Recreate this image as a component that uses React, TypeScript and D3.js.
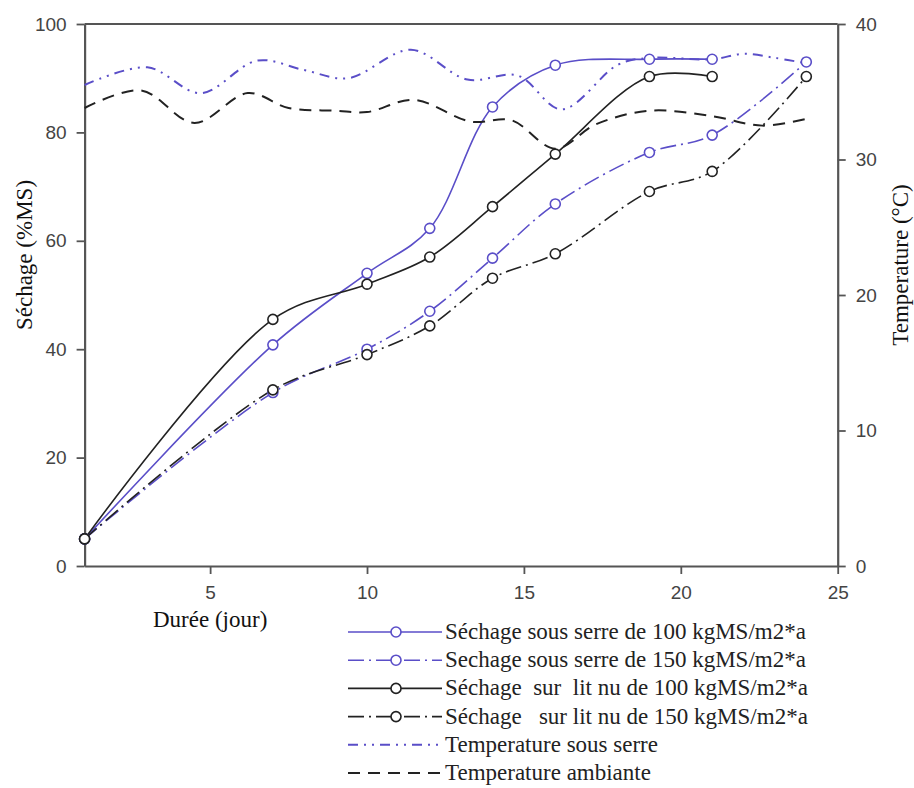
import React, { useEffect, useRef } from "react";
import * as d3 from "d3";

// drying series (left axis, %MS)
const days100 = [1, 7, 10, 12, 14, 16, 19, 21];
const days150 = [1, 7, 10, 12, 14, 16, 19, 21, 24];
const serre100 = [5, 40.8, 54, 62.3, 84.7, 92.4, 93.5, 93.5];
const serre150 = [5, 32, 40, 47, 56.8, 66.8, 76.3, 79.5, 93];
const litNu100 = [5, 45.5, 52, 57, 66.3, 76, 90.3, 90.3];
const litNu150 = [5, 32.5, 39, 44.3, 53.1, 57.6, 69.1, 72.8, 90.3];

// temperature series (right axis, °C)
const tSerreDays = [1, 3, 4.7, 6.5, 8, 9.4, 11.4, 13.2, 14.8, 16.2, 18, 19, 21, 22, 23, 24];
const tSerre = [35.5, 36.8, 34.9, 37.3, 36.6, 36.0, 38.1, 35.9, 36.2, 33.7, 37.0, 37.5, 37.4, 37.8, 37.5, 37.1];
const tAmbDays = [1, 2.8, 4.5, 6.2, 7.5, 9, 10, 11.5, 13.3, 14.6, 16, 17.3, 19, 21, 22.6, 24];
const tAmb = [33.8, 35.1, 32.7, 34.9, 33.8, 33.6, 33.5, 34.4, 32.8, 32.9, 30.8, 32.6, 33.6, 33.2, 32.5, 33.0];

const xTicks = [5, 10, 15, 20, 25];
const yTicks = [0, 20, 40, 60, 80, 100];
const tTicks = [0, 10, 20, 30, 40];

const legendLabels = [
  "Séchage sous serre de 100 kgMS/m2*a",
  "Sechage sous serre de 150 kgMS/m2*a",
  "Séchage  sur  lit nu de 100 kgMS/m2*a",
  "Séchage   sur lit nu de 150 kgMS/m2*a",
  "Temperature sous serre",
  "Temperature ambiante",
];

const BLUE = "#5a4ec8";
const BLACK = "#222";

const App = () => {
  const svgRef = useRef<SVGSVGElement>(null);

  useEffect(() => {
    const svg = d3.select(svgRef.current);
    svg.selectAll("*").remove();

    const width = 914;
    const height = 788;
    svg.attr("width", width).attr("height", height);

    const x = d3.scaleLinear().domain([1, 25]).range([84.6, 837.7]);
    const y = d3.scaleLinear().domain([0, 100]).range([566, 24]);
    const yT = d3.scaleLinear().domain([0, 40]).range([566, 24]);

    const series = [
      { xs: days100, ys: serre100, scale: y, color: BLUE, dash: null, w: 1.6, marker: true },
      { xs: days150, ys: serre150, scale: y, color: BLUE, dash: "16,5,2,5", w: 1.6, marker: true },
      { xs: days100, ys: litNu100, scale: y, color: BLACK, dash: null, w: 1.6, marker: true },
      { xs: days150, ys: litNu150, scale: y, color: BLACK, dash: "16,5,2,5", w: 1.6, marker: true },
      { xs: tSerreDays, ys: tSerre, scale: yT, color: BLUE, dash: "10,6,2,6,2,6", w: 2, marker: false },
      { xs: tAmbDays, ys: tAmb, scale: yT, color: BLACK, dash: "12,8", w: 2, marker: false },
    ];

    const tickStyle = (g) => {
      g.select(".domain").attr("stroke", "#555").attr("stroke-width", 2.2);
      g.selectAll(".tick line").attr("stroke", "#555").attr("stroke-width", 1.8);
      g.selectAll(".tick text")
        .attr("fill", "#444")
        .style("font-family", "'Liberation Sans', Arial, sans-serif")
        .style("font-size", "19px");
    };

    // frame top line
    svg.append("line")
      .attr("x1", x(1)).attr("x2", x(25))
      .attr("y1", y(100)).attr("y2", y(100))
      .attr("stroke", "#555").attr("stroke-width", 2.2);

    svg.append("g")
      .attr("transform", `translate(0,${y(0)})`)
      .call(d3.axisBottom(x).tickValues(xTicks).tickSize(8).tickSizeOuter(0).tickPadding(12))
      .call(tickStyle);

    svg.append("g")
      .attr("transform", `translate(${x(1)},0)`)
      .call(d3.axisLeft(y).tickValues(yTicks).tickSize(8).tickSizeOuter(0).tickPadding(10))
      .call(tickStyle);

    svg.append("g")
      .attr("transform", `translate(${x(25)},0)`)
      .call(d3.axisRight(yT).tickValues(tTicks).tickSize(8).tickSizeOuter(0).tickPadding(10))
      .call(tickStyle);

    // lines
    series.forEach((s) => {
      const pts = s.xs.map((d, i) => [d, s.ys[i]]);
      const line = d3.line()
        .x((d) => x(d[0]))
        .y((d) => s.scale(d[1]))
        .curve(d3.curveCatmullRom.alpha(0.5));
      svg.append("path")
        .datum(pts)
        .attr("d", line)
        .attr("fill", "none")
        .attr("stroke", s.color)
        .attr("stroke-width", s.w)
        .attr("stroke-dasharray", s.dash);
    });

    // markers
    series.filter((s) => s.marker).forEach((s) => {
      svg.append("g")
        .selectAll("circle")
        .data(s.xs.map((d, i) => [d, s.ys[i]]))
        .enter().append("circle")
        .attr("cx", (d) => x(d[0]))
        .attr("cy", (d) => s.scale(d[1]))
        .attr("r", 5)
        .attr("fill", "white")
        .attr("stroke", s.color)
        .attr("stroke-width", 1.6);
    });

    const serif = "'Liberation Serif', 'Times New Roman', serif";

    // axis titles
    svg.append("text")
      .attr("transform", `translate(32,255) rotate(-90)`)
      .attr("text-anchor", "middle")
      .attr("fill", "#111")
      .style("font-family", serif)
      .style("font-size", "23px")
      .text("Séchage (%MS)");

    svg.append("text")
      .attr("transform", `translate(908,265) rotate(-90)`)
      .attr("text-anchor", "middle")
      .attr("fill", "#111")
      .style("font-family", serif)
      .style("font-size", "23px")
      .text("Temperature (°C)");

    svg.append("text")
      .attr("x", 153).attr("y", 627)
      .attr("fill", "#111")
      .style("font-family", serif)
      .style("font-size", "23px")
      .text("Durée (jour)");

    // legend
    const lg = svg.append("g").attr("transform", "translate(348,632)");
    series.forEach((s, i) => {
      const row = lg.append("g").attr("transform", `translate(0,${i * 28.2})`);
      row.append("line")
        .attr("x1", 0).attr("x2", 94)
        .attr("y1", 0).attr("y2", 0)
        .attr("stroke", s.color)
        .attr("stroke-width", s.w)
        .attr("stroke-dasharray", s.dash);
      if (s.marker) {
        row.append("circle")
          .attr("cx", 48).attr("cy", 0).attr("r", 5)
          .attr("fill", "white").attr("stroke", s.color).attr("stroke-width", 1.6);
      }
      row.append("text")
        .attr("x", 97).attr("y", 7)
        .attr("fill", "#222")
        .style("font-family", serif)
        .style("font-size", "23px")
        .style("white-space", "pre")
        .text(legendLabels[i]);
    });
  }, []);

  return (
    <div style={{ position: "absolute", left: 0, top: 0, background: "white" }}>
      <svg ref={svgRef}></svg>
    </div>
  );
};

export default App;
